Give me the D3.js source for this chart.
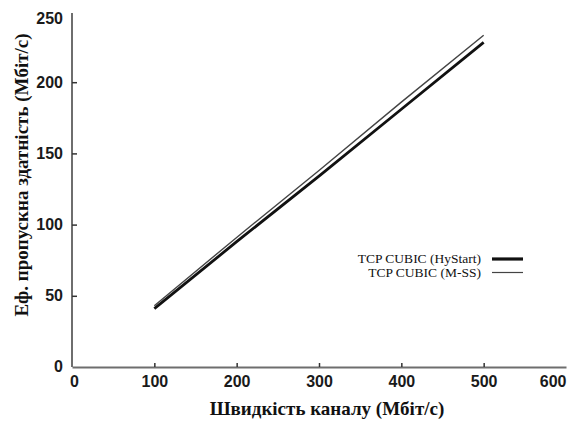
<!DOCTYPE html>
<html>
<head>
<meta charset="utf-8">
<script src="https://cdn.jsdelivr.net/npm/d3@7"></script>
<style>
  html, body { margin: 0; padding: 0; background: #fff; }
  svg { display: block; }
  .serif { font-family: "Liberation Serif", "Times New Roman", serif; }
  .title { font-weight: bold; font-size: 19px; fill: #111; }
</style>
</head>
<body>
<svg id="chart" width="568" height="421"></svg>
<script>
// Channel speed (Mbit/s) and effective throughput (Mbit/s) for each algorithm
const channelSpeed = [100, 200, 300, 400, 500];
const hystartThroughput = [41, 88, 134, 181, 228];
const mssThroughput = [43, 91, 138, 186, 233];
const seriesNames = ["TCP CUBIC (HyStart)", "TCP CUBIC (M-SS)"];
const xTicks = [0, 100, 200, 300, 400, 500, 600];
const yTicks = [0, 50, 100, 150, 200, 250];

const svg = d3.select("#chart");
const plot = { left: 72, right: 566, top: 11, bottom: 367 };

const x = d3.scaleLinear().domain([0, 600]).range([plot.left, plot.right]);
const y = d3.scaleLinear().domain([0, 250]).range([plot.bottom, plot.top]);

const axisColor = "#6e6e6e";

// x axis with inward ticks
const gx = svg.append("g").attr("transform", `translate(0,${plot.bottom})`)
  .call(d3.axisBottom(x).tickValues(xTicks).tickSizeInner(-4).tickSizeOuter(0).tickPadding(9));
// y axis with inward ticks
const gy = svg.append("g").attr("transform", `translate(${plot.left},0)`)
  .call(d3.axisLeft(y).tickValues(yTicks).tickSizeInner(-5).tickSizeOuter(0).tickPadding(9));

[gx, gy].forEach(g => {
  g.select(".domain").attr("stroke", axisColor).attr("stroke-width", 2);
  g.selectAll(".tick line").attr("stroke", "#333").attr("stroke-width", 1.5);
  g.selectAll(".tick text")
    .attr("fill", "#1a1a1a")
    .style("font-family", "'Liberation Sans', Arial, sans-serif")
    .style("font-weight", "bold")
    .style("font-size", "16px");
});
// no tick marks at the ends; keep edge labels inside the drawing area
gx.selectAll(".tick").filter(d => d === 0 || d === 600).select("line").remove();
gx.selectAll(".tick").filter(d => d === 600).select("text").attr("text-anchor", "end");
gy.selectAll(".tick").filter(d => d === 0 || d === 250).select("line").remove();
gy.selectAll(".tick").filter(d => d === 250).select("text").attr("y", 7);
gy.selectAll(".tick").filter(d => d === 0).select("text").attr("y", -1);
gx.selectAll(".tick").filter(d => d === 0).select("text").attr("x", 2);
gy.select(".domain").attr("d", `M0,${plot.top + 2}V${plot.bottom}`);

const line = d3.line().x(d => x(d[0])).y(d => y(d[1]));

// M-SS: thin line
svg.append("path")
  .datum(channelSpeed.map((s, i) => [s, mssThroughput[i]]))
  .attr("d", line)
  .attr("fill", "none")
  .attr("stroke", "#444")
  .attr("stroke-width", 1.4);

// HyStart: thick line
svg.append("path")
  .datum(channelSpeed.map((s, i) => [s, hystartThroughput[i]]))
  .attr("d", line)
  .attr("fill", "none")
  .attr("stroke", "#111")
  .attr("stroke-width", 2.8);

// legend
const legend = svg.append("g").attr("transform", "translate(481,259)");
const legendWidths = [3.2, 1.2];
seriesNames.forEach((name, i) => {
  const g = legend.append("g").attr("transform", `translate(0,${i * 13.5})`);
  g.append("text")
    .attr("class", "serif")
    .attr("x", 0).attr("y", 0).attr("dy", "0.32em")
    .attr("text-anchor", "end")
    .style("font-size", "13.5px")
    .attr("fill", "#111")
    .text(name);
  g.append("line")
    .attr("x1", 11).attr("x2", 42).attr("y1", 0).attr("y2", 0)
    .attr("stroke", i === 0 ? "#111" : "#444")
    .attr("stroke-width", legendWidths[i]);
});

// axis titles
svg.append("text")
  .attr("class", "serif title")
  .attr("x", 327).attr("y", 408).attr("dy", "0.35em")
  .attr("text-anchor", "middle")
  .text("Швидкість каналу (Мбіт/с)");

svg.append("text")
  .attr("class", "serif title")
  .attr("transform", "translate(21,175) rotate(-90)")
  .attr("dy", "0.35em")
  .attr("text-anchor", "middle")
  .text("Еф. пропускна здатність (Мбіт/с)");
</script>
</body>
</html>
